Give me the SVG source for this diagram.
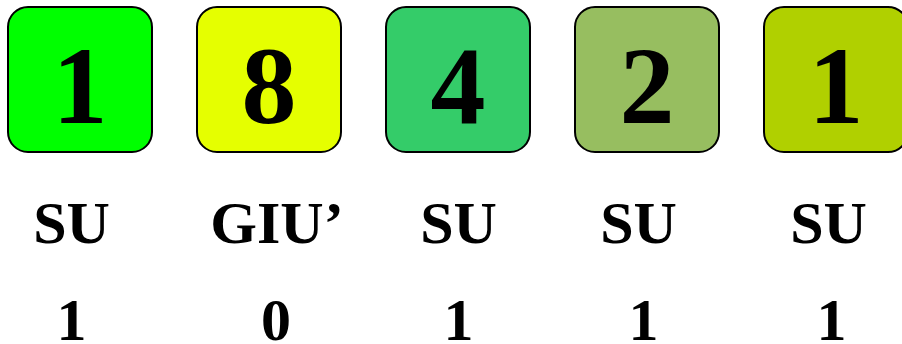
<svg xmlns="http://www.w3.org/2000/svg" width="902" height="344" viewBox="0 0 902 344">
<style>
.box{stroke:#000;stroke-width:2}
.big{font-family:"Liberation Serif","Times New Roman",serif;font-weight:bold;font-size:110px;text-anchor:middle;fill:#000}
.lbl{font-family:"Liberation Serif","Times New Roman",serif;font-weight:bold;font-size:60px;text-anchor:middle;fill:#000}
</style>
<rect width="902" height="344" fill="#fff"/>
<g id="node1">
<rect class="box" x="8" y="7" width="144" height="145" rx="20" fill="#00FF00"/>
<text class="big" x="80" y="123">1</text>
<text class="lbl" x="71.5" y="243">SU</text>
<text class="lbl" x="71.5" y="340">1</text>
</g>
<g id="node2">
<rect class="box" x="197" y="7" width="144" height="145" rx="20" fill="#E5FF00"/>
<text class="big" x="269" y="123">8</text>
<text class="lbl" x="277" y="243">GIU’</text>
<text class="lbl" x="276" y="340">0</text>
</g>
<g id="node3">
<rect class="box" x="386" y="7" width="144" height="145" rx="20" fill="#34CC69"/>
<text class="big" x="458" y="123">4</text>
<text class="lbl" x="458.5" y="243">SU</text>
<text class="lbl" x="458.5" y="340">1</text>
</g>
<g id="node4">
<rect class="box" x="575" y="7" width="144" height="145" rx="20" fill="#97BE60"/>
<text class="big" x="647" y="123">2</text>
<text class="lbl" x="638.5" y="243">SU</text>
<text class="lbl" x="643.5" y="340">1</text>
</g>
<g id="node5">
<rect class="box" x="764" y="7" width="144" height="145" rx="20" fill="#B0D000"/>
<text class="big" x="836" y="123">1</text>
<text class="lbl" x="828.5" y="243">SU</text>
<text class="lbl" x="831.5" y="340">1</text>
</g>
<g id="connectors"/>
</svg>
